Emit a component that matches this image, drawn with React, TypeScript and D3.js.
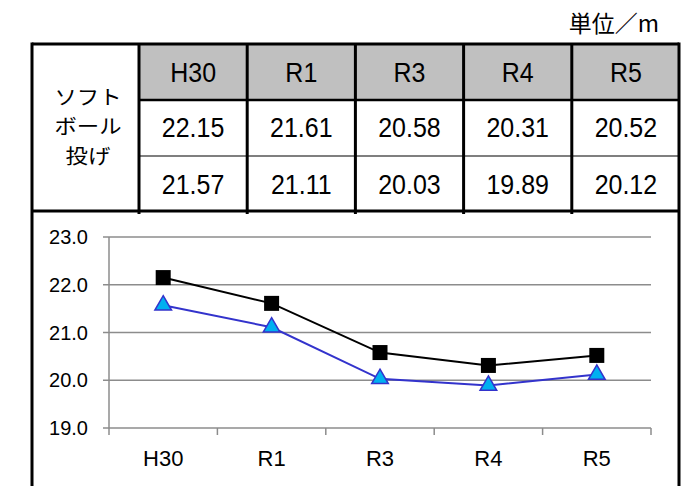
import React from "react";
import * as d3 from "d3";

const categories = ["H30", "R1", "R3", "R4", "R5"];
const series1 = [22.15, 21.61, 20.58, 20.31, 20.52];
const series2 = [21.57, 21.11, 20.03, 19.89, 20.12];
const series1Labels = ["22.15", "21.61", "20.58", "20.31", "20.52"];
const series2Labels = ["21.57", "21.11", "20.03", "19.89", "20.12"];
const yTicks = [19, 20, 21, 22, 23];
const rowTitle = ["ソフト", "ボール", "投げ"];
const unitLabel = "単位／m";

const W = 690;
const H = 486;
const FONT = "'Liberation Sans', Arial, 'Noto Sans CJK JP', sans-serif";
const JFONT = "'Noto Sans CJK JP', 'Liberation Sans', sans-serif";

export default function App() {
  const boxL = 32, boxR = 679, boxT = 44;
  const tableX = d3.scaleBand<string>().domain(categories).range([139, 680]);
  const rowH = [44, 100, 156, 211];

  const x = d3.scaleBand<string>().domain(categories).range([109, 651]);
  const y = d3.scaleLinear().domain([19, 23]).range([428, 237]);

  const line = d3
    .line<number>()
    .x((_, i) => (x(categories[i]) as number) + x.bandwidth() / 2)
    .y((d) => y(d));

  const tri = d3.symbol().type(d3.symbolTriangle).size(120)();

  const cellText = (cx: number, by: number, s: string) => (
    <text
      transform={`translate(${cx},${by}) scale(1,1.12)`}
      textAnchor="middle"
      fontFamily={FONT}
      fontSize={25}
      fill="#000"
    >
      {s}
    </text>
  );

  return (
    <svg width={W} height={H} style={{ position: "absolute", left: 0, top: 0, background: "#fff" }}>
      <rect x={0} y={0} width={W} height={H} fill="#fff" />
      <text x={659} y={32} textAnchor="end" fontSize={23} fontFamily={JFONT} fill="#000">
        {unitLabel}
      </text>

      {/* header gray cells */}
      <rect x={139} y={44} width={541} height={56} fill="#c0c0c0" />

      {/* header & values */}
      {categories.map((c, i) => {
        const cx = (tableX(c) as number) + tableX.bandwidth() / 2;
        return (
          <g key={c}>
            {cellText(cx, 82, c)}
            {cellText(cx, 137, series1Labels[i])}
            {cellText(cx, 193.5, series2Labels[i])}
          </g>
        );
      })}

      {/* row title */}
      {rowTitle.map((t, i) => (
        <text
          key={t}
          transform={`translate(88,${104.5 + i * 29.5}) scale(1.12,1)`}
          textAnchor="middle"
          fontSize={20}
          fontFamily={JFONT}
          fill="#000"
        >
          {t}
        </text>
      ))}

      {/* table lines */}
      <line x1={139} x2={680} y1={rowH[1]} y2={rowH[1]} stroke="#000" strokeWidth={2.5} />
      <line x1={139} x2={680} y1={rowH[2]} y2={rowH[2]} stroke="#000" strokeWidth={1.2} />
      <line x1={boxL} x2={boxR} y1={rowH[3]} y2={rowH[3]} stroke="#000" strokeWidth={3} />
      {categories.slice(1).map((c) => (
        <line key={c} x1={tableX(c)} x2={tableX(c)} y1={44} y2={214} stroke="#000" strokeWidth={3} />
      ))}
      <line x1={139} x2={139} y1={44} y2={214} stroke="#000" strokeWidth={3} />

      {/* outer box */}
      <line x1={boxL} x2={boxR} y1={boxT} y2={boxT} stroke="#000" strokeWidth={3} />
      <line x1={boxL} x2={boxL} y1={boxT - 1.5} y2={H} stroke="#000" strokeWidth={3} />
      <line x1={boxR} x2={boxR} y1={boxT - 1.5} y2={H} stroke="#000" strokeWidth={3} />

      {/* chart grid */}
      {yTicks.map((t) => (
        <g key={t}>
          <line x1={103} x2={651} y1={y(t)} y2={y(t)} stroke="#8c8c8c" strokeWidth={1.5} />
          <text x={88} y={y(t) + 7} textAnchor="end" fontSize={20} fontFamily={FONT} fill="#000">
            {t.toFixed(1)}
          </text>
        </g>
      ))}
      <line x1={109} x2={109} y1={237} y2={428} stroke="#8c8c8c" strokeWidth={1.5} />
      {categories.map((c) => (
        <line key={c} x1={x(c)} x2={x(c)} y1={428} y2={435} stroke="#8c8c8c" strokeWidth={1.5} />
      ))}
      <line x1={651} x2={651} y1={428} y2={435} stroke="#8c8c8c" strokeWidth={1.5} />
      {categories.map((c) => (
        <text
          key={c}
          x={(x(c) as number) + x.bandwidth() / 2}
          y={466}
          textAnchor="middle"
          fontSize={22}
          fontFamily={FONT}
          fill="#000"
        >
          {c}
        </text>
      ))}

      {/* lines */}
      <path d={line(series1) || ""} fill="none" stroke="#000" strokeWidth={2} />
      <path d={line(series2) || ""} fill="none" stroke="#3333cc" strokeWidth={2} />
      {series1.map((v, i) => {
        const cx = (x(categories[i]) as number) + x.bandwidth() / 2;
        return <rect key={"s" + i} x={cx - 7.5} y={y(v) - 7.5} width={15} height={15} fill="#000" />;
      })}
      {series2.map((v, i) => {
        const cx = (x(categories[i]) as number) + x.bandwidth() / 2;
        return (
          <path
            key={"t" + i}
            d={tri || ""}
            transform={`translate(${cx},${y(v)})`}
            fill="#00b0f0"
            stroke="#3333cc"
            strokeWidth={1.5}
          />
        );
      })}
    </svg>
  );
}
